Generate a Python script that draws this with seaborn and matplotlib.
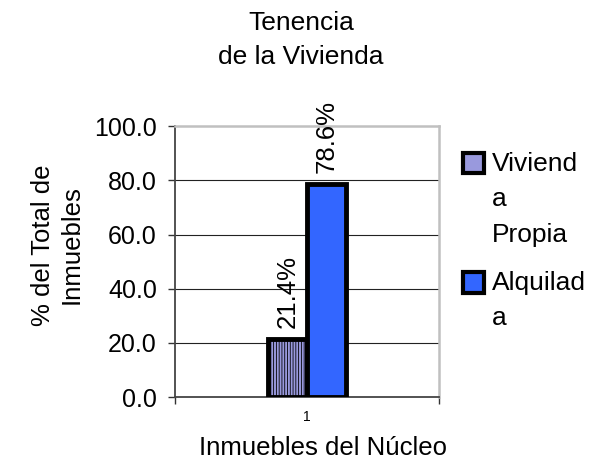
import matplotlib as mpl
import matplotlib.pyplot as plt
import pandas as pd
import seaborn as sns

# datos
categorias = ["1"]
series = ["Viviend\na\nPropia", "Alquilad\na"]
porcentajes = [21.4, 78.6]
colores = ["#9999dd", "#3366ff"]
ticks_y = [0, 20, 40, 60, 80, 100]

sns.set_theme(style="white")
mpl.rcParams['font.family'] = ['Liberation Sans', 'DejaVu Sans']
mpl.rcParams['text.color'] = 'black'
mpl.rcParams['xtick.color'] = 'black'
mpl.rcParams['ytick.color'] = 'black'
mpl.rcParams['hatch.color'] = '#8888cc'
mpl.rcParams['hatch.linewidth'] = 0.6

df = pd.DataFrame({
    "cat": categorias * len(series),
    "serie": series,
    "valor": porcentajes,
})

fig = plt.figure(figsize=(6.14, 4.63), dpi=100)
ax = fig.add_axes([0.285, 0.1425, 0.430, 0.585])

sns.barplot(data=df, x="cat", y="valor", hue="serie", hue_order=series,
            palette=colores, saturation=1, width=0.8, edgecolor="black",
            linewidth=3.5, ax=ax, legend=True, zorder=3)

# rayado vertical en la primera serie
for bar in ax.containers[0]:
    bar.set_hatch("||||||")

# etiquetas de valor
for cont, v in zip(ax.containers, porcentajes):
    for bar in cont:
        ax.text(bar.get_x() + bar.get_width() / 2, bar.get_height() + 4,
                f"{v:.1f}%", rotation=90, ha="center", va="bottom",
                fontsize=18.5)

ax.set_xlim(-1.37, 1.37)
ax.set_ylim(0, 100)
ax.set_yticks(ticks_y)
ax.set_yticklabels([f"{t:.1f}" for t in ticks_y], fontsize=18)
ax.set_xticks([0])
ax.set_xticklabels(categorias, fontsize=10)
ax.tick_params(axis="x", length=0, pad=9)
ax.set_xticks([-1.37, 1.37], minor=True)
ax.tick_params(axis="x", which="minor", length=5, width=1, color="#333333",
               direction="out", bottom=True)
ax.tick_params(axis="y", length=5, width=1, color="#333333", direction="out",
               left=True, pad=8)

for y in ticks_y[1:-1]:
    ax.axhline(y, color="#222222", linewidth=0.8, zorder=0)

for s in ["left", "bottom"]:
    ax.spines[s].set_color("#444444")
    ax.spines[s].set_linewidth(1.3)
for s in ["top", "right"]:
    ax.spines[s].set_visible(True)
    ax.spines[s].set_color("#c0c0c0")
    ax.spines[s].set_linewidth(1.8)

ax.set_xlabel("")
ax.set_ylabel("")
fig.text(0.526, 0.017, "Inmuebles del Núcleo", ha="center", va="baseline",
         fontsize=18.5)
fig.text(0.094, 0.471, "% del Total de\nInmuebles", ha="center", va="center",
         rotation=90, fontsize=18.5, linespacing=1.25)
fig.text(0.49, 0.914, "Tenencia\nde la Vivienda", ha="center", va="center",
         fontsize=19, linespacing=1.55)

leg = ax.legend(loc="upper left", bbox_to_anchor=(0.754, 0.672),
                bbox_transform=fig.transFigure, frameon=False, fontsize=19,
                handlelength=0.8, handleheight=0.8, handletextpad=0.3,
                labelspacing=0.9, borderpad=0, borderaxespad=0)
paso = 26.6  # separacion entre lineas del texto de la leyenda (pt)
for t in leg.get_texts():
    t.set_linespacing(1.61)
for h, lab in zip(leg.legend_handles, series):
    h.set_linewidth(3)
    h.set_y(h.get_y() + paso * (lab.count("\n")) / 2)

fig.savefig("out.png", dpi=100)
